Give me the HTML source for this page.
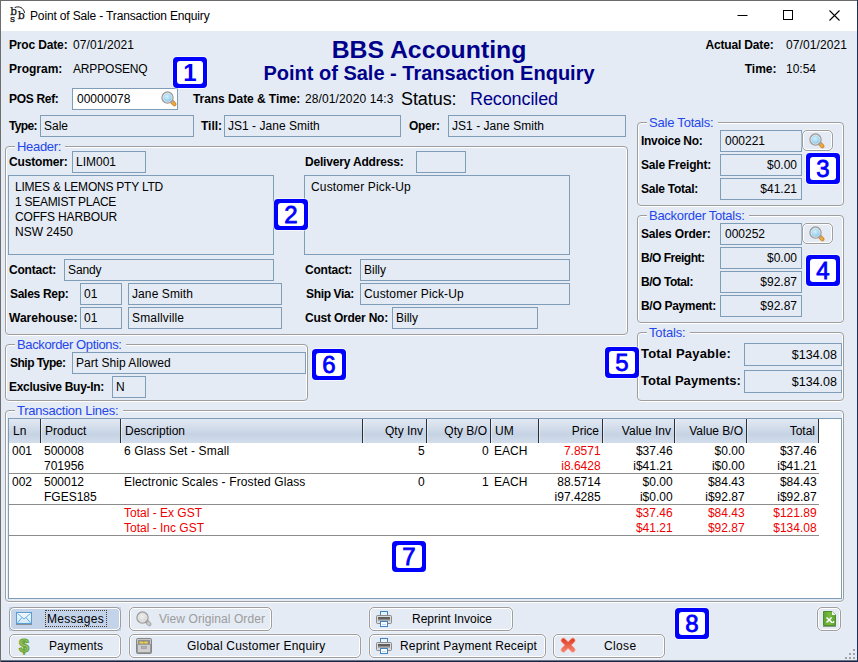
<!DOCTYPE html><html><head><meta charset="utf-8"><title>Point of Sale - Transaction Enquiry</title><style>
html,body{margin:0;padding:0}
body{width:858px;height:662px;position:relative;overflow:hidden;background:#16234a;font-family:"Liberation Sans",sans-serif;font-size:12px;color:#000}
#win{position:absolute;left:1px;top:31px;width:856px;height:629px;background:#E4EBF4}
#tb{position:absolute;left:1px;top:1px;width:856px;height:30px;background:#fff}
#top{position:absolute;left:0;top:0;width:858px;height:1px;background:#6b6b6b}
#bot{position:absolute;left:0;top:660px;width:858px;height:1px;background:#6f7480}
#lft{position:absolute;left:0;top:0;width:1px;height:662px;background:#6e6e70}
#rgt{position:absolute;left:857px;top:0;width:1px;height:662px;background:#1c2f5c}
.t{position:absolute;white-space:nowrap;line-height:14px;font-size:12px}
.l{font-weight:bold}
.f{position:absolute;border:1px solid #7F9DB9;background:#E4EBF4;white-space:nowrap;line-height:14px;overflow:hidden}
.g{position:absolute;border:1px solid #9e9e9e;border-radius:4px}
.gw{position:absolute;border:1px solid #fff;border-radius:3px}
.gm{position:absolute;height:2px;background:#E4EBF4}
.gt{color:#2446ea}
.b{position:absolute;z-index:5;width:34px;height:31px;border-radius:4px;background:#0000ff;box-shadow:0 0 0 1px rgba(255,255,255,.55)}
.b div{position:absolute;left:4px;top:4px;width:26px;height:23px;border-radius:3px;background:#fff;color:#0000ff;font-weight:normal;-webkit-text-stroke:0.8px #0000ff;font-size:24px;line-height:24px;text-align:center}
.h1{position:absolute;left:0;width:858px;text-align:center;font-weight:bold;font-size:24.8px;line-height:28px;color:#00008B}
.h2{position:absolute;left:0;width:858px;text-align:center;font-weight:bold;font-size:20px;line-height:24px;color:#00008B}
.mag{position:absolute}
.btn{position:absolute;border:1px solid #9e9e9e;border-radius:5px;background:#E4EBF4;box-shadow:inset 0 0 0 1px #fff, 0 0 0 1px rgba(255,255,255,.35)}
.btn.sel{background:#c3d3ea;box-shadow:inset 0 0 0 1px #fff}
.foc{position:absolute;border:1px dotted #4a3a2a}
#tbl{position:absolute;left:8px;top:418px;width:832px;height:179px;border:1px solid #7f9db9;background:#fff}
#th{position:absolute;left:9px;top:419px;width:810px;height:24px;background:linear-gradient(#e2e9f3,#c6d3e4 65%,#d3deec)}
.cs{position:absolute;top:419px;width:1px;height:24px;background:#2b2f36;box-shadow:1px 0 0 rgba(255,255,255,.45)}
.rl{position:absolute;left:9px;width:810px;height:1px;background:#8c8c8c}
</style></head><body><div id="win"></div><div id="top"></div><div id="bot"></div><div id="lft"></div><div id="rgt"></div><div id="tb"></div>
<svg style="position:absolute;left:9px;top:6px" width="17" height="17" viewBox="0 0 17 17"><g style="font-family:'DejaVu Serif',serif;font-weight:normal" fill="#111" stroke="#111" stroke-width=".25"><text x="1.2" y="9.0" font-size="10.5">b</text><text x="8.7" y="12.9" font-size="11">b</text><text x="1.1" y="15.9" font-size="10">s</text></g><path d="M5.6 1.6 C10 -0.3 14.6 1.6 15.6 6.9" fill="none" stroke="#1a1a1a" stroke-width="1"/></svg>
<div class="t " id="w1" style="top:9px;left:30px;letter-spacing:-0.15px;">Point of Sale - Transaction Enquiry</div>
<svg style="position:absolute;left:730px;top:0px" width="127" height="30" viewBox="0 0 127 30"><path d="M7.5 15.5 h10" stroke="#000" stroke-width="1"/><rect x="53.5" y="10.5" width="9" height="9" fill="none" stroke="#000" stroke-width="1"/><path d="M99.5 10.5 l10 10 M109.5 10.5 l-10 10" stroke="#000" stroke-width="1.1"/></svg>
<div class="t l" id="w2" style="top:38px;left:9px;letter-spacing:-0.153px;">Proc Date:</div>
<div class="t " id="w3" style="top:38px;left:73px;letter-spacing:0.094px;">07/01/2021</div>
<div class="t l" style="top:62px;left:9px;">Program:</div>
<div class="t " id="w4" style="top:62px;left:73px;letter-spacing:-0.17px;">ARPPOSENQ</div>
<div class="h1" id="h1" style="top:36px">BBS Accounting</div>
<div class="h2" id="h2" style="top:61px">Point of Sale - Transaction Enquiry</div>
<div class="t l" id="w5" style="top:38px;right:84.5px;letter-spacing:-0.168px;">Actual Date:</div>
<div class="t " id="w6" style="top:38px;left:786px;letter-spacing:0.094px;">07/01/2021</div>
<div class="t l" style="top:62px;right:81.5px;">Time:</div>
<div class="t " style="top:62px;left:786px;">10:54</div>
<div class="b" style="left:173px;top:57px"><div style="font-weight:bold;-webkit-text-stroke:0">1</div></div>
<div class="t l" id="w7" style="top:92px;left:9px;letter-spacing:-0.314px;">POS Ref:</div>
<div class="f" style="left:72px;top:88px;width:104px;height:20px;background:#fff"><span style="position:absolute;top:3px;left:4px">00000078</span></div>
<svg class="mag" style="left:161px;top:91px" width="16" height="16" viewBox="0 0 16 16"><defs><radialGradient id="lg1" cx="45%" cy="40%" r="65%"><stop offset="0" stop-color="#d4f0fb"/><stop offset=".6" stop-color="#9ad4f3"/><stop offset="1" stop-color="#3d9de6"/></radialGradient></defs><path d="M11.3 11 L13.3 13.2" stroke="#c98a2e" stroke-width="4.2" stroke-linecap="round"/><path d="M11.6 11.3 L13.2 13.1" stroke="#f3a93a" stroke-width="2.6" stroke-linecap="round"/><path d="M10 9.8 L11.6 11.4" stroke="#a9a9a9" stroke-width="2.6"/><circle cx="6.5" cy="6.6" r="5.3" fill="url(#lg1)" stroke="#9c9c9c" stroke-width="1.9"/><circle cx="6.5" cy="6.6" r="4.5" fill="none" stroke="#f2f2f2" stroke-width=".9"/></svg>
<div class="t l" id="w8" style="top:92px;left:193px;letter-spacing:-0.066px;">Trans Date &amp; Time:</div>
<div class="t " id="w9" style="top:92px;left:305px;letter-spacing:0.117px;">28/01/2020 14:3</div>
<div class="t " id="w10" style="top:89px;font-size:18px;line-height:20px;left:401px;letter-spacing:-0.076px;">Status:</div>
<div class="t " id="w11" style="top:89px;font-size:18px;line-height:20px;left:470px;letter-spacing:-0.106px;color:#00008B;">Reconciled</div>
<div class="t l" id="w12" style="top:119px;left:9px;letter-spacing:-0.625px;">Type:</div>
<div class="f" style="left:40px;top:115px;width:152px;height:20px;"><span style="position:absolute;top:3px;left:3px">Sale</span></div>
<div class="t l" style="top:119px;left:201px;">Till:</div>
<div class="f" style="left:224px;top:115px;width:175px;height:20px;"><span id="w13" style="position:absolute;top:3px;letter-spacing:0.027px;left:3px">JS1 - Jane Smith</span></div>
<div class="t l" id="w14" style="top:119px;left:409px;letter-spacing:-0.283px;">Oper:</div>
<div class="f" style="left:448px;top:115px;width:176px;height:20px;"><span id="w15" style="position:absolute;top:3px;letter-spacing:0.039px;left:3px">JS1 - Jane Smith</span></div>
<div class="gw" style="left:6px;top:147px;width:619px;height:187px"></div>
<div class="g" style="left:5px;top:146px;width:621px;height:187px"></div>
<div class="gm" style="left:15px;top:146px;width:50px"></div>
<div class="t gt" id="w16" style="top:139px;font-size:13px;line-height:15px;left:17px;letter-spacing:-0.321px;">Header:</div>
<div class="t l" id="w17" style="top:155px;left:9px;letter-spacing:-0.168px;">Customer:</div>
<div class="f" style="left:72px;top:151px;width:72px;height:20px;"><span style="position:absolute;top:3px;left:3px">LIM001</span></div>
<div class="f" style="left:8px;top:175px;width:264px;height:78px;"><span style="position:absolute;top:32px;left:3px"></span></div>
<div class="t " id="w18" style="top:180px;left:15px;letter-spacing:-0.224px;">LIMES &amp; LEMONS PTY LTD</div>
<div class="t " id="w19" style="top:195px;left:15px;letter-spacing:-0.277px;">1 SEAMIST PLACE</div>
<div class="t " id="w20" style="top:210px;left:15px;letter-spacing:-0.155px;">COFFS HARBOUR</div>
<div class="t " id="w21" style="top:225px;left:15px;letter-spacing:-0.004px;">NSW 2450</div>
<div class="b" style="left:274px;top:199px"><div>2</div></div>
<div class="t l" id="w22" style="top:155px;left:305px;letter-spacing:-0.183px;">Delivery Address:</div>
<div class="f" style="left:416px;top:151px;width:48px;height:20px;"><span style="position:absolute;top:3px;left:3px"></span></div>
<div class="f" style="left:304px;top:175px;width:264px;height:78px;"><span style="position:absolute;top:32px;left:3px"></span></div>
<div class="t " id="w23" style="top:180px;left:311px;letter-spacing:0.159px;">Customer Pick-Up</div>
<div class="t l" id="w24" style="top:263px;left:9px;letter-spacing:-0.209px;">Contact:</div>
<div class="f" style="left:64px;top:259px;width:208px;height:20px;"><span id="w25" style="position:absolute;top:3px;letter-spacing:-0.126px;left:3px">Sandy</span></div>
<div class="t l" id="w26" style="top:287px;left:10px;letter-spacing:-0.286px;">Sales Rep:</div>
<div class="f" style="left:80px;top:283px;width:40px;height:20px;"><span style="position:absolute;top:3px;left:3px">01</span></div>
<div class="f" style="left:128px;top:283px;width:152px;height:20px;"><span id="w27" style="position:absolute;top:3px;letter-spacing:0.097px;left:3px">Jane Smith</span></div>
<div class="t l" id="w28" style="top:311px;left:9px;letter-spacing:0.027px;">Warehouse:</div>
<div class="f" style="left:80px;top:307px;width:40px;height:20px;"><span style="position:absolute;top:3px;left:3px">01</span></div>
<div class="f" style="left:128px;top:307px;width:152px;height:20px;"><span id="w29" style="position:absolute;top:3px;letter-spacing:0.151px;left:3px">Smallville</span></div>
<div class="t l" id="w30" style="top:263px;left:305px;letter-spacing:-0.209px;">Contact:</div>
<div class="f" style="left:360px;top:259px;width:208px;height:20px;"><span style="position:absolute;top:3px;left:3px">Billy</span></div>
<div class="t l" id="w31" style="top:287px;left:306px;letter-spacing:-0.347px;">Ship Via:</div>
<div class="f" style="left:360px;top:283px;width:208px;height:20px;"><span id="w32" style="position:absolute;top:3px;letter-spacing:0.159px;left:3px">Customer Pick-Up</span></div>
<div class="t l" id="w33" style="top:311px;left:305px;letter-spacing:-0.215px;">Cust Order No:</div>
<div class="f" style="left:392px;top:307px;width:144px;height:20px;"><span style="position:absolute;top:3px;left:3px">Billy</span></div>
<div class="gw" style="left:638px;top:123px;width:203px;height:82px"></div>
<div class="g" style="left:637px;top:122px;width:205px;height:82px"></div>
<div class="gm" style="left:647px;top:122px;width:70.5px"></div>
<div class="t gt" id="w34" style="top:115px;font-size:13px;line-height:15px;left:649px;letter-spacing:-0.206px;">Sale Totals:</div>
<div class="t l" id="w35" style="top:134px;left:641px;letter-spacing:-0.29px;">Invoice No:</div>
<div class="f" style="left:720px;top:130px;width:80px;height:20px;"><span style="position:absolute;top:3px;left:4px">000221</span></div>
<div class="btn " style="left:802px;top:130px;width:29px;height:19px"></div>
<svg class="mag" style="left:809px;top:133px" width="16" height="16" viewBox="0 0 16 16"><defs><radialGradient id="lg2" cx="45%" cy="40%" r="65%"><stop offset="0" stop-color="#d4f0fb"/><stop offset=".6" stop-color="#9ad4f3"/><stop offset="1" stop-color="#3d9de6"/></radialGradient></defs><path d="M11.3 11 L13.3 13.2" stroke="#c98a2e" stroke-width="4.2" stroke-linecap="round"/><path d="M11.6 11.3 L13.2 13.1" stroke="#f3a93a" stroke-width="2.6" stroke-linecap="round"/><path d="M10 9.8 L11.6 11.4" stroke="#a9a9a9" stroke-width="2.6"/><circle cx="6.5" cy="6.6" r="5.3" fill="url(#lg2)" stroke="#9c9c9c" stroke-width="1.9"/><circle cx="6.5" cy="6.6" r="4.5" fill="none" stroke="#f2f2f2" stroke-width=".9"/></svg>
<div class="t l" id="w36" style="top:158px;left:641px;letter-spacing:-0.207px;">Sale Freight:</div>
<div class="f" style="left:720px;top:154px;width:80px;height:20px;"><span style="position:absolute;top:3px;right:4px">$0.00</span></div>
<div class="t l" id="w37" style="top:182px;left:641px;letter-spacing:-0.254px;">Sale Total:</div>
<div class="f" style="left:720px;top:178px;width:80px;height:20px;"><span style="position:absolute;top:3px;right:4px">$41.21</span></div>
<div class="b" style="left:806px;top:153px"><div>3</div></div>
<div class="gw" style="left:638px;top:216px;width:203px;height:106px"></div>
<div class="g" style="left:637px;top:215px;width:205px;height:106px"></div>
<div class="gm" style="left:647px;top:215px;width:101.5px"></div>
<div class="t gt" id="w38" style="top:208px;font-size:13px;line-height:15px;left:649px;letter-spacing:-0.277px;">Backorder Totals:</div>
<div class="t l" id="w39" style="top:227px;left:641px;letter-spacing:-0.156px;">Sales Order:</div>
<div class="f" style="left:720px;top:223px;width:80px;height:20px;"><span style="position:absolute;top:3px;left:4px">000252</span></div>
<div class="btn " style="left:802px;top:223px;width:29px;height:19px"></div>
<svg class="mag" style="left:809px;top:226px" width="16" height="16" viewBox="0 0 16 16"><defs><radialGradient id="lg3" cx="45%" cy="40%" r="65%"><stop offset="0" stop-color="#d4f0fb"/><stop offset=".6" stop-color="#9ad4f3"/><stop offset="1" stop-color="#3d9de6"/></radialGradient></defs><path d="M11.3 11 L13.3 13.2" stroke="#c98a2e" stroke-width="4.2" stroke-linecap="round"/><path d="M11.6 11.3 L13.2 13.1" stroke="#f3a93a" stroke-width="2.6" stroke-linecap="round"/><path d="M10 9.8 L11.6 11.4" stroke="#a9a9a9" stroke-width="2.6"/><circle cx="6.5" cy="6.6" r="5.3" fill="url(#lg3)" stroke="#9c9c9c" stroke-width="1.9"/><circle cx="6.5" cy="6.6" r="4.5" fill="none" stroke="#f2f2f2" stroke-width=".9"/></svg>
<div class="t l" id="w40" style="top:251px;left:641px;letter-spacing:-0.486px;">B/O Freight:</div>
<div class="f" style="left:720px;top:247px;width:80px;height:20px;"><span style="position:absolute;top:3px;right:4px">$0.00</span></div>
<div class="t l" id="w41" style="top:275px;left:641px;letter-spacing:-0.444px;">B/O Total:</div>
<div class="f" style="left:720px;top:271px;width:80px;height:20px;"><span style="position:absolute;top:3px;right:4px">$92.87</span></div>
<div class="t l" id="w42" style="top:299px;left:641px;letter-spacing:-0.307px;">B/O Payment:</div>
<div class="f" style="left:720px;top:295px;width:80px;height:20px;"><span style="position:absolute;top:3px;right:4px">$92.87</span></div>
<div class="b" style="left:806px;top:255px"><div>4</div></div>
<div class="gw" style="left:638px;top:333px;width:203px;height:67px"></div>
<div class="g" style="left:637px;top:332px;width:205px;height:67px"></div>
<div class="gm" style="left:647px;top:332px;width:42.5px"></div>
<div class="t gt" id="w43" style="top:325px;font-size:13px;line-height:15px;left:649px;letter-spacing:-0.154px;">Totals:</div>
<div class="t l" id="w44" style="top:346px;font-size:13px;line-height:15px;left:641px;letter-spacing:0.201px;">Total Payable:</div>
<div class="f" style="left:744px;top:343px;width:96px;height:21px;"><span id="w45" style="position:absolute;top:4px;font-size:12.5px;line-height:14.5px;letter-spacing:0.002px;right:4px">$134.08</span></div>
<div class="t l" id="w46" style="top:373px;font-size:13px;line-height:15px;left:641px;letter-spacing:0.036px;">Total Payments:</div>
<div class="f" style="left:744px;top:370px;width:96px;height:21px;"><span id="w47" style="position:absolute;top:4px;font-size:12.5px;line-height:14.5px;letter-spacing:0.002px;right:4px">$134.08</span></div>
<div class="b" style="left:605px;top:347px"><div>5</div></div>
<div class="gw" style="left:6px;top:345px;width:299px;height:55px"></div>
<div class="g" style="left:5px;top:344px;width:301px;height:55px"></div>
<div class="gm" style="left:15px;top:344px;width:110.5px"></div>
<div class="t gt" id="w48" style="top:337px;font-size:13px;line-height:15px;left:17px;letter-spacing:-0.377px;">Backorder Options:</div>
<div class="t l" id="w49" style="top:356px;left:10px;letter-spacing:-0.495px;">Ship Type:</div>
<div class="f" style="left:72px;top:352px;width:232px;height:20px;"><span id="w50" style="position:absolute;top:3px;letter-spacing:0.032px;left:3px">Part Ship Allowed</span></div>
<div class="t l" id="w51" style="top:380px;left:9px;letter-spacing:-0.296px;">Exclusive Buy-In:</div>
<div class="f" style="left:112px;top:376px;width:32px;height:20px;"><span style="position:absolute;top:3px;left:3px">N</span></div>
<div class="b" style="left:312px;top:349px"><div>6</div></div>
<div class="gw" style="left:6px;top:411px;width:835px;height:190px"></div>
<div class="g" style="left:5px;top:410px;width:837px;height:190px"></div>
<div class="gm" style="left:15px;top:410px;width:107.5px"></div>
<div class="t gt" id="w52" style="top:403px;font-size:13px;line-height:15px;left:17px;letter-spacing:-0.236px;">Transaction Lines:</div>
<div id="tbl"></div>
<div id="th"></div>
<div class="t " style="top:424px;left:13px;">Ln</div>
<div class="t " style="top:424px;left:45px;">Product</div>
<div class="cs" style="left:40px"></div>
<div class="t " style="top:424px;left:125px;">Description</div>
<div class="cs" style="left:120px"></div>
<div class="t " style="top:424px;right:435px;">Qty Inv</div>
<div class="cs" style="left:362px"></div>
<div class="t " style="top:424px;right:371px;">Qty B/O</div>
<div class="cs" style="left:426px"></div>
<div class="t " style="top:424px;left:495px;">UM</div>
<div class="cs" style="left:490px"></div>
<div class="t " style="top:424px;right:259px;">Price</div>
<div class="cs" style="left:538px"></div>
<div class="t " style="top:424px;right:187px;">Value Inv</div>
<div class="cs" style="left:602px"></div>
<div class="t " style="top:424px;right:115px;">Value B/O</div>
<div class="cs" style="left:674px"></div>
<div class="t " style="top:424px;right:43px;">Total</div>
<div class="cs" style="left:746px"></div>
<div class="cs" style="left:818px"></div>
<div class="t " style="top:444px;left:12px;">001</div>
<div class="t " style="top:444px;left:44px;">500008</div>
<div class="t " id="w53" style="top:444px;left:124px;letter-spacing:0.137px;">6 Glass Set - Small</div>
<div class="t " style="top:444px;right:433.4px;">5</div>
<div class="t " style="top:444px;right:369.4px;">0</div>
<div class="t " style="top:444px;left:494px;">EACH</div>
<div class="t " style="top:444px;right:257.4px;color:#f00000;">7.8571</div>
<div class="t " style="top:444px;right:185.39999999999998px;">$37.46</div>
<div class="t " style="top:444px;right:113.39999999999998px;">$0.00</div>
<div class="t " style="top:444px;right:41.39999999999998px;">$37.46</div>
<div class="t " style="top:459px;left:44px;">701956</div>
<div class="t " style="top:459px;right:257.4px;color:#f00000;">i8.6428</div>
<div class="t " style="top:459px;right:185.39999999999998px;">i$41.21</div>
<div class="t " style="top:459px;right:113.39999999999998px;">i$0.00</div>
<div class="t " style="top:459px;right:41.39999999999998px;">i$41.21</div>
<div class="t " style="top:475px;left:12px;">002</div>
<div class="t " style="top:475px;left:44px;">500012</div>
<div class="t " id="w54" style="top:475px;left:124px;letter-spacing:0.124px;">Electronic Scales - Frosted Glass</div>
<div class="t " style="top:475px;right:433.4px;">0</div>
<div class="t " style="top:475px;right:369.4px;">1</div>
<div class="t " style="top:475px;left:494px;">EACH</div>
<div class="t " style="top:475px;right:257.4px;">88.5714</div>
<div class="t " style="top:475px;right:185.39999999999998px;">$0.00</div>
<div class="t " style="top:475px;right:113.39999999999998px;">$84.43</div>
<div class="t " style="top:475px;right:41.39999999999998px;">$84.43</div>
<div class="t " style="top:490px;left:44px;">FGES185</div>
<div class="t " style="top:490px;right:257.4px;">i97.4285</div>
<div class="t " style="top:490px;right:185.39999999999998px;">i$0.00</div>
<div class="t " style="top:490px;right:113.39999999999998px;">i$92.87</div>
<div class="t " style="top:490px;right:41.39999999999998px;">i$92.87</div>
<div class="t " style="top:506px;left:124px;color:#f00000;">Total - Ex GST</div>
<div class="t " style="top:506px;right:185.39999999999998px;color:#f00000;">$37.46</div>
<div class="t " style="top:506px;right:113.39999999999998px;color:#f00000;">$84.43</div>
<div class="t " style="top:506px;right:41.39999999999998px;color:#f00000;">$121.89</div>
<div class="t " style="top:521px;left:124px;color:#f00000;">Total - Inc GST</div>
<div class="t " style="top:521px;right:185.39999999999998px;color:#f00000;">$41.21</div>
<div class="t " style="top:521px;right:113.39999999999998px;color:#f00000;">$92.87</div>
<div class="t " style="top:521px;right:41.39999999999998px;color:#f00000;">$134.08</div>
<div class="rl" style="top:473px"></div>
<div class="rl" style="top:504px"></div>
<div class="rl" style="top:535px"></div>
<div class="b" style="left:392px;top:541px"><div>7</div></div>
<div style="position:absolute;left:9px;top:607px;width:112px;height:24px;background:#c3d3ea"></div>
<div class="btn sel" style="left:9px;top:607px;width:110px;height:22px"></div>
<div class="t " id="w55" style="top:612px;left:47px;letter-spacing:0.287px;">Messages</div>
<div class="foc" style="left:45px;top:610px;width:60px;height:15px"></div>
<svg style="position:absolute;left:16px;top:612px" width="16" height="13" viewBox="0 0 16 13"><defs><linearGradient id="env" x1="0" y1="0" x2="0" y2="1"><stop offset="0" stop-color="#f4fbff"/><stop offset="1" stop-color="#cfe8fa"/></linearGradient></defs><path d="M0 12.5h16" stroke="#8b8f96"/><rect x=".5" y=".5" width="15" height="11" fill="url(#env)" stroke="#5c9bd3"/><path d="M1.5 1.5 L8 7 L14.5 1.5 M1.5 10.8 L6 5.6 M14.5 10.8 L10 5.6" fill="none" stroke="#6baae0" stroke-width="1"/></svg>
<div class="btn dis" style="left:129px;top:607px;width:141px;height:22px"></div>
<div class="t " id="w56" style="top:612px;left:159px;letter-spacing:0.08px;color:#9c9c9c;">View Original Order</div>
<svg class="mag" style="left:136px;top:611px" width="16" height="16" viewBox="0 0 16 16"><defs><radialGradient id="lg4" cx="45%" cy="40%" r="65%"><stop offset="0" stop-color="#f0f0f0"/><stop offset=".6" stop-color="#dcdcdc"/><stop offset="1" stop-color="#c4c4c4"/></radialGradient></defs><path d="M11.3 11 L13.3 13.2" stroke="#a4a4a4" stroke-width="4.2" stroke-linecap="round"/><path d="M11.6 11.3 L13.2 13.1" stroke="#c8c8c8" stroke-width="2.6" stroke-linecap="round"/><path d="M10 9.8 L11.6 11.4" stroke="#a9a9a9" stroke-width="2.6"/><circle cx="6.5" cy="6.6" r="5.3" fill="url(#lg4)" stroke="#9c9c9c" stroke-width="1.9"/><circle cx="6.5" cy="6.6" r="4.5" fill="none" stroke="#f2f2f2" stroke-width=".9"/></svg>
<div class="btn " style="left:369px;top:607px;width:142px;height:22px"></div>
<div class="t " id="w57" style="top:612px;left:412px;letter-spacing:-0.003px;">Reprint Invoice</div>
<div class="btn " style="left:9px;top:634px;width:110px;height:22px"></div>
<div class="t " id="w58" style="top:639px;left:49px;letter-spacing:0.08px;">Payments</div>
<svg style="position:absolute;left:17px;top:636px" width="14" height="19" viewBox="0 0 14 19"><text x="7" y="15.6" text-anchor="middle" font-family="Liberation Sans,sans-serif" font-weight="bold" font-size="18" fill="#9ccb6a" stroke="#6aa43a" stroke-width="1.1">$</text></svg>
<div class="btn " style="left:129px;top:634px;width:230px;height:22px"></div>
<div class="t " id="w59" style="top:639px;left:187px;letter-spacing:0.193px;">Global Customer Enquiry</div>
<div class="btn " style="left:369px;top:634px;width:175px;height:22px"></div>
<div class="t " id="w60" style="top:639px;left:400px;letter-spacing:0.156px;">Reprint Payment Receipt</div>
<div class="btn " style="left:553px;top:634px;width:110px;height:22px"></div>
<div class="t " id="w61" style="top:639px;left:604px;letter-spacing:0.362px;">Close</div>
<svg style="position:absolute;left:560px;top:637px" width="16" height="16" viewBox="0 0 16 16"><defs><linearGradient id="xg" x1="0" y1="0" x2="0" y2="1"><stop offset="0" stop-color="#e2452d"/><stop offset="1" stop-color="#f27a66"/></linearGradient></defs><path d="M3.4 3.4 L12.8 12.8 M12.8 3.4 L3.4 12.8" stroke="#f7b7aa" stroke-width="5.4" stroke-linecap="round"/><path d="M3.4 3.4 L12.8 12.8 M12.8 3.4 L3.4 12.8" stroke="url(#xg)" stroke-width="4.2" stroke-linecap="round"/></svg>
<svg style="position:absolute;left:376px;top:611px" width="16" height="16" viewBox="0 0 16 16"><rect x="4.5" y=".5" width="7" height="5" fill="#eaf4fd" stroke="#3f82c6"/><rect x=".5" y="4.5" width="15" height="8" rx="1" fill="#d9d9d9" stroke="#8b8b8b"/><rect x="2" y="6" width="12" height="2.6" fill="#5f5f5f"/><rect x="2" y="9" width="12" height="1" fill="#a9a9a9"/><rect x="4.5" y="10.5" width="7" height="5" fill="#fff" stroke="#3f82c6"/><path d="M6 13.5h4" stroke="#bcd9f2" stroke-width="1"/></svg>
<svg style="position:absolute;left:376px;top:638px" width="16" height="16" viewBox="0 0 16 16"><rect x="4.5" y=".5" width="7" height="5" fill="#eaf4fd" stroke="#3f82c6"/><rect x=".5" y="4.5" width="15" height="8" rx="1" fill="#d9d9d9" stroke="#8b8b8b"/><rect x="2" y="6" width="12" height="2.6" fill="#5f5f5f"/><rect x="2" y="9" width="12" height="1" fill="#a9a9a9"/><rect x="4.5" y="10.5" width="7" height="5" fill="#fff" stroke="#3f82c6"/><path d="M6 13.5h4" stroke="#bcd9f2" stroke-width="1"/></svg>
<svg style="position:absolute;left:136px;top:638px" width="16" height="16" viewBox="0 0 16 16"><rect x=".5" y=".5" width="15" height="15" rx="1" fill="#c6c6c6" stroke="#858585"/><rect x="2" y="2" width="12" height="4" fill="#8f8f8f"/><path d="M3.5 5.5 v-2 h3 l1 1 h1 v-1 h3 l.5 2z" fill="#f2d23c"/><rect x="1.5" y="6.5" width="13" height="8" fill="#cfcfcf" stroke="#9a9a9a"/><rect x="5.5" y="8.5" width="5" height="2" fill="#b2b2b2" stroke="#909090" stroke-width=".6"/></svg>
<div class="btn " style="left:817px;top:607px;width:22px;height:22px"></div>
<svg style="position:absolute;left:823px;top:611px" width="13" height="16" viewBox="0 0 13 16"><defs><linearGradient id="xl" x1="0" y1="0" x2="1" y2="0"><stop offset="0" stop-color="#5da130"/><stop offset=".5" stop-color="#78bb42"/><stop offset="1" stop-color="#5da130"/></linearGradient></defs><path d="M.5 .5 H9 L12.5 4 V14.5 H.5z" fill="url(#xl)" stroke="#4b8f26"/><path d="M9 .5 V4 H12.5z" fill="#fff"/><path d="M0 15.5h13" stroke="#8d9a86"/><path d="M3.5 6.5 L9 11.5 M8.6 6.5 L3.5 11.5" stroke="#fff" stroke-width="1.5"/><path d="M8 11.5h2.6v-1.4" stroke="#fff" stroke-width="1.2" fill="none"/></svg>
<div class="b" style="left:675px;top:608px"><div>8</div></div>
<div style="position:absolute;left:853px;top:649px;width:2px;height:2px;background:#a4a4a4"></div>
<div style="position:absolute;left:849px;top:653px;width:2px;height:2px;background:#a4a4a4"></div>
<div style="position:absolute;left:853px;top:653px;width:2px;height:2px;background:#a4a4a4"></div>
<div style="position:absolute;left:845px;top:657px;width:2px;height:2px;background:#a4a4a4"></div>
<div style="position:absolute;left:849px;top:657px;width:2px;height:2px;background:#a4a4a4"></div>
<div style="position:absolute;left:853px;top:657px;width:2px;height:2px;background:#a4a4a4"></div></body></html>
